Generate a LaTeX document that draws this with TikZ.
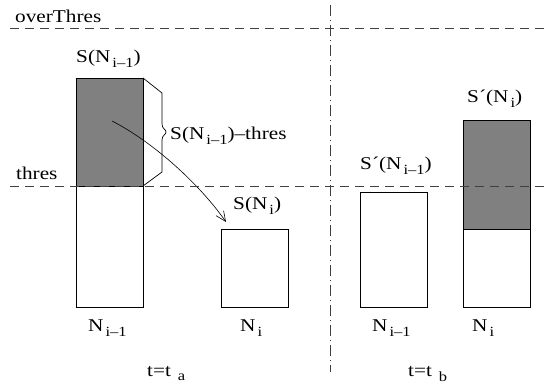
\documentclass[tikz,border=0pt]{standalone}
\usepackage{fontspec}
\setmainfont{Liberation Serif}[FakeStretch=1.18]
\usetikzlibrary{arrows.meta}
\newcommand{\lowsub}[2][2pt]{\hspace{#1}\raisebox{-4.5pt}{\fontsize{14}{14}\selectfont #2}}
\tikzset{
  lbl/.style={anchor=base west, inner sep=0pt, font=\fontsize{18}{20}\selectfont},
  bar/.style={draw, line width=0.8pt, fill=white},
  over/.style={draw, line width=0.8pt, fill=gray},
  level/.style={black!75, line width=0.8pt, dash pattern=on 9pt off 6pt},
  split/.style={black!75, line width=0.8pt, dash pattern=on 11pt off 4pt on 1pt off 4pt},
}

\begin{document}
\begin{tikzpicture}[x=1pt,y=-1pt]
  \useasboundingbox (0,0) rectangle (544,390);

  % t = t_a
  \draw[bar]  (76,186) rectangle (143,307);
  \draw[over] (76,78) rectangle (143,186);
  \draw[bar]  (221,229) rectangle (288,307);
  \node[lbl] (sa1) at (76,63) {S(N\lowsub{i--1})};
  \node[lbl] (sa2) at (233,210) {S(N\lowsub{i})};
  \node[lbl] (na1) at (88,332) {N\lowsub{i--1}};
  \node[lbl] (na2) at (240,332) {N\lowsub{i}};
  \node[lbl] (ta) at (147,376) {t=t\lowsub[7pt]{a}};

  % brace over the part above thres
  \coordinate (brT) at (143,78);
  \coordinate (brB) at (143,186);
  \draw[line width=0.7pt] (brT) -- (162,93) -- (162,124)
    .. controls (162,129) and (166,129) .. (166,132)
    .. controls (166,135) and (162,135) .. (162,140)
    -- (162,172) -- (brB);
  \node[lbl] (over) at (170,140) {S(N\lowsub{i--1})--thres};

  % moved load
  \coordinate (mvS) at (112,121);
  \coordinate (mvE) at (226,222);
  \draw[line width=0.6pt, -{Straight Barb[length=10pt,width=9pt]}]
    (mvS) .. controls (155,143) and (201,186) .. (mvE);

  % t = t_b
  \draw[bar]  (360,192) rectangle (427,307);
  \draw[bar]  (463,229) rectangle (530,307);
  \draw[over] (463,120) rectangle (530,229);
  \node[lbl] (sb1) at (360,170) {S´(N\lowsub{i--1})};
  \node[lbl] (sb2) at (467,103) {S´(N\lowsub{i})};
  \node[lbl] (nb1) at (372,332) {N\lowsub{i--1}};
  \node[lbl] (nb2) at (472,332) {N\lowsub{i}};
  \node[lbl] (tb) at (408,377) {t=t\lowsub[7pt]{b}};

  % levels
  \draw[level] (10,28) -- (544,28);
  \draw[level] (10,186) -- (544,186);
  \node[lbl] (ot) at (15,23) {overThres};
  \node[lbl] (th) at (16,180) {thres};
  \draw[split] (330,5) -- (330,372);
\end{tikzpicture}
\end{document}
